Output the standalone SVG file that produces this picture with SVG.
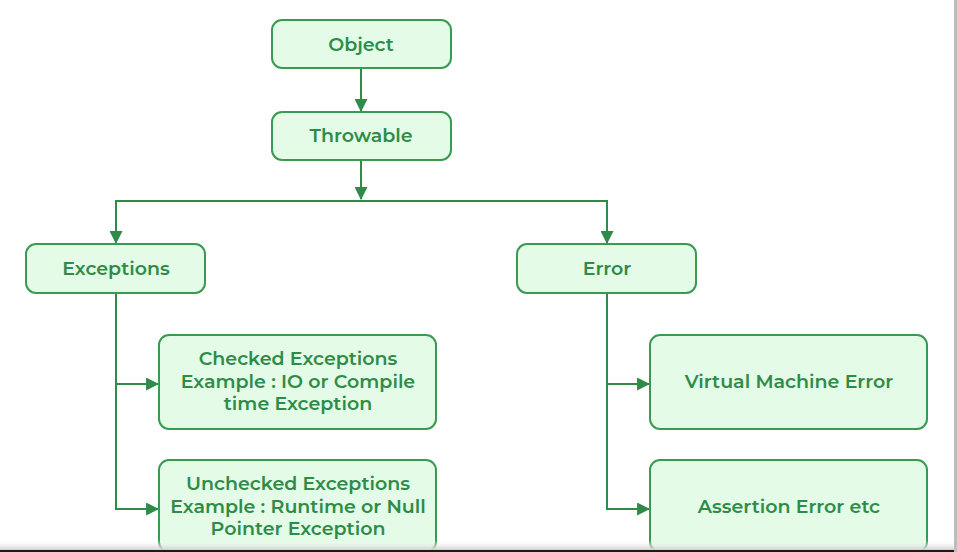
<svg xmlns="http://www.w3.org/2000/svg" width="957" height="552" viewBox="0 0 957 552">
<defs>
<marker id="arr" viewBox="0 0 12 12" refX="11" refY="6" markerWidth="13" markerHeight="13" markerUnits="userSpaceOnUse" orient="auto">
<path d="M0,0 L12,6 L0,12 Z" fill="#2f8c48"/>
</marker>
<linearGradient id="shade" x1="0" y1="0" x2="0" y2="1">
<stop offset="0" stop-color="#ffffff" stop-opacity="0"/>
<stop offset="1" stop-color="#d0d0d0"/>
</linearGradient>
<style>
.box{fill:#e3fbe7;stroke:#3a9a52;stroke-width:2}
.lbl{font-family:"Montserrat","Open Sans","Noto Sans","DejaVu Sans",sans-serif;font-weight:600;font-size:19px;fill:#2f8c48;text-anchor:middle}
.ln{fill:none;stroke:#2f8c48;stroke-width:2}
</style>
</defs>
<rect width="957" height="552" fill="#ffffff"/>
<g id="connectors">
<path class="ln" d="M361,69 V111" marker-end="url(#arr)"/>
<path class="ln" d="M361,160 V199"/>
<path class="ln" d="M361,190 V199" marker-end="url(#arr)"/>
<path class="ln" d="M116,243 V201 H607 V243"/>
<path class="ln" d="M116,234 V243" marker-end="url(#arr)"/>
<path class="ln" d="M607,234 V243" marker-end="url(#arr)"/>
<path class="ln" d="M116,293 V509 H158" marker-end="url(#arr)"/>
<path class="ln" d="M116,384 H158" marker-end="url(#arr)"/>
<path class="ln" d="M607,293 V509 H649" marker-end="url(#arr)"/>
<path class="ln" d="M607,384 H649" marker-end="url(#arr)"/>
</g>
<g id="object">
<rect class="box" x="272" y="20" width="179" height="48" rx="10"/>
<text class="lbl" x="361" y="50.5">Object</text>
</g>
<g id="throwable">
<rect class="box" x="272" y="112" width="179" height="48" rx="10"/>
<text class="lbl" x="361" y="141.5">Throwable</text>
</g>
<g id="exceptions">
<rect class="box" x="26" y="244" width="179" height="49" rx="10"/>
<text class="lbl" x="116" y="274.5">Exceptions</text>
</g>
<g id="error">
<rect class="box" x="517" y="244" width="179" height="49" rx="10"/>
<text class="lbl" x="607" y="274.5">Error</text>
</g>
<g id="checked">
<rect class="box" x="159" y="335" width="277" height="94" rx="10"/>
<text class="lbl" x="298" y="364.5">Checked Exceptions</text>
<text class="lbl" x="298" y="387.5">Example : IO or Compile</text>
<text class="lbl" x="298" y="409.5">time Exception</text>
</g>
<g id="unchecked">
<rect class="box" x="159" y="460" width="277" height="92" rx="10"/>
<text class="lbl" x="298" y="489.5">Unchecked Exceptions</text>
<text class="lbl" x="298" y="512.5">Example : Runtime or Null</text>
<text class="lbl" x="298" y="534.5">Pointer Exception</text>
</g>
<g id="vm-error">
<rect class="box" x="650" y="335" width="277" height="94" rx="10"/>
<text class="lbl" x="789" y="387.5">Virtual Machine Error</text>
</g>
<g id="assertion-error">
<rect class="box" x="650" y="460" width="277" height="92" rx="10"/>
<text class="lbl" x="789" y="512.5">Assertion Error etc</text>
</g>
<rect x="0" y="540" width="957" height="10" fill="url(#shade)"/>
<rect x="0" y="550" width="957" height="2" fill="#1a1a1a"/>
<rect x="954" y="0" width="3" height="552" fill="#bdbdbd"/>
</svg>
